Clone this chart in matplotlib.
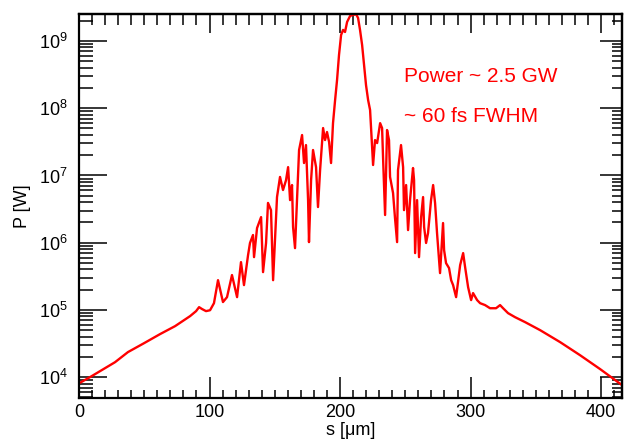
"""Radiation power profile along the bunch, log scale."""

import numpy as np
import matplotlib
matplotlib.use("Agg")
import matplotlib.pyplot as plt
from matplotlib.ticker import LogLocator, MultipleLocator, FuncFormatter, NullFormatter

plt.rcParams["font.family"] = ["Liberation Sans", "DejaVu Sans"]

# position along the bunch [um]
s_um = [
    0.0, 8.4, 16.1, 27.6, 37.5, 49.8, 62.1, 73.6, 85.1, 89.7,
    92.0, 94.3, 97.3, 100.4, 103.4, 106.5, 110.3, 113.4, 117.2, 121.1,
    124.1, 126.4, 129.5, 131.0, 133.3, 134.1, 136.4, 139.5, 141.0, 143.3,
    144.8, 147.1, 148.7, 151.7, 154.0, 156.3, 158.6, 160.2, 161.7, 163.2,
    164.0, 165.5, 167.0, 168.6, 170.9, 172.4, 173.9, 175.5, 176.2, 177.8,
    179.3, 181.6, 183.1, 184.7, 187.0, 188.5, 190.0, 191.6, 193.1, 194.6,
    196.2, 197.7, 199.2, 200.8, 202.3, 203.8, 205.4, 207.7, 210.0, 212.3,
    213.8, 215.3, 216.9, 218.4, 219.9, 221.5, 223.0, 224.5, 225.3, 226.8,
    228.4, 229.1, 230.7, 232.2, 233.0, 234.5, 236.0, 237.5, 238.3, 240.6,
    242.1, 243.7, 244.4, 246.7, 248.3, 249.0, 250.6, 252.1, 253.6, 255.9,
    256.7, 257.5, 259.0, 260.5, 262.1, 263.6, 264.4, 265.9, 267.4, 269.7,
    271.3, 272.8, 274.3, 276.6, 278.9, 279.7, 281.2, 283.5, 285.1, 286.6,
    288.9, 292.0, 294.3, 295.8, 298.1, 300.4, 301.9, 305.0, 307.3, 311.1,
    314.9, 319.5, 322.6, 324.9, 328.7, 334.1, 341.8, 353.3, 368.6, 383.9,
    399.2, 416.1,
]

# power [W]
power_w = [
    8.1e3, 1.0e4, 1.23e4, 1.67e4, 2.36e4, 3.2e4, 4.37e4, 5.74e4, 8.09e4, 9.6e4,
    1.10e5, 1.03e5, 9.6e4, 9.9e4, 1.26e5, 2.77e5, 1.31e5, 1.55e5, 3.3e5, 1.55e5,
    5.14e5, 2.34e5, 6.5e5, 9.9e5, 1.30e6, 6.1e5, 1.65e6, 2.4e6, 3.65e5, 9.9e5,
    3.9e6, 3.05e6, 2.77e5, 4.77e6, 9.5e6, 6.07e6, 8.5e6, 1.33e7, 4.3e6, 7.2e6,
    1.71e6, 8.3e5, 4.3e6, 2.39e7, 3.99e7, 1.53e7, 2.83e7, 4.3e6, 1.02e6, 8.5e6,
    2.39e7, 1.33e7, 3.39e6, 1.2e7, 5.07e7, 3.36e7, 4.42e7, 3.14e7, 1.53e7, 6.0e7,
    1.32e8, 2.63e8, 6.2e8, 1.23e9, 1.46e9, 1.36e9, 1.92e9, 2.36e9, 2.44e9, 2.5e9,
    2.2e9, 1.46e9, 8.7e8, 4.4e8, 2.2e8, 1.32e8, 9.4e7, 2.65e7, 1.43e7, 3.36e7,
    3.03e7, 3.73e7, 6.0e7, 5.07e7, 1.7e7, 2.58e6, 4.74e7, 3.36e7, 9.5e6, 5.47e6,
    2.32e6, 1.02e6, 1.2e7, 2.83e7, 1.33e7, 3.05e6, 7.2e6, 1.54e6, 4.3e6, 1.29e7,
    8.5e6, 7.0e5, 4.3e6, 6.1e5, 2.4e6, 4.77e6, 1.71e6, 9.9e5, 1.39e6, 4.3e6,
    7.2e6, 3.88e6, 1.39e6, 3.53e5, 1.96e6, 7.76e5, 4.97e5, 4.19e5, 2.77e5, 2.34e5,
    1.55e5, 4.64e5, 7.0e5, 4.34e5, 2.18e5, 1.40e5, 1.78e5, 1.40e5, 1.26e5, 1.18e5,
    1.06e5, 1.06e5, 1.18e5, 1.06e5, 8.96e4, 7.8e4, 6.58e4, 5.0e4, 3.32e4, 2.12e4,
    1.32e4, 7.6e3,
]

notes = ["Power ~ 2.5 GW", "~ 60 fs FWHM"]

fig = plt.figure(figsize=(6.25, 4.44), dpi=100)
ax = fig.add_axes([0.1264, 0.1036, 0.8688, 0.8649])

ax.plot(s_um, power_w, color="red", lw=1.7)

ax.set_yscale("log")
ax.set_xlim(0, 416)
ax.set_ylim(4.9e3, 2.52e9)

minor_subs = [2, 3, 4, 5, 6, 7, 8, 9]
ax.xaxis.set_major_locator(MultipleLocator(100))
ax.xaxis.set_minor_locator(MultipleLocator(10))
ax.yaxis.set_major_locator(LogLocator(base=10, numticks=20))
ax.yaxis.set_minor_locator(LogLocator(base=10, subs=minor_subs, numticks=20))
ax.yaxis.set_major_formatter(FuncFormatter(lambda v, _: r"$\mathregular{10^{%d}}$" % round(np.log10(v))))
ax.yaxis.set_minor_formatter(NullFormatter())

for sp in ax.spines.values():
    sp.set_linewidth(1.6)

ax.tick_params(axis="both", which="both", direction="in", width=1.1,
               labelsize=13, top=False, right=False)
ax.tick_params(axis="y", which="major", length=20, pad=8)
ax.tick_params(axis="y", which="minor", length=10)
ax.tick_params(axis="x", which="major", length=15, pad=4)
ax.tick_params(axis="x", which="minor", length=6)

# mirrored axes on the top and right, shorter ticks and no labels
top = ax.secondary_xaxis("top")
top.xaxis.set_major_locator(MultipleLocator(100))
top.xaxis.set_minor_locator(MultipleLocator(10))
top.tick_params(which="both", direction="in", width=1.1, labeltop=False)
top.tick_params(which="major", length=14)
top.tick_params(which="minor", length=8)
top.spines["top"].set_linewidth(1.6)

right = ax.secondary_yaxis("right")
right.yaxis.set_major_locator(LogLocator(base=10, numticks=20))
right.yaxis.set_minor_locator(LogLocator(base=10, subs=minor_subs, numticks=20))
right.tick_params(which="both", direction="in", width=1.1, labelright=False)
right.tick_params(which="major", length=16)
right.tick_params(which="minor", length=7)
right.spines["right"].set_linewidth(1.6)

ax.set_xlabel("s [\u03bcm]", fontsize=13, labelpad=1)
ax.set_ylabel("P [W]", fontsize=13, labelpad=6)

ax.text(0.598, 0.836, notes[0], transform=ax.transAxes, color="red",
        fontsize=15, va="center", ha="left")
ax.text(0.598, 0.734, notes[1], transform=ax.transAxes, color="red",
        fontsize=15, va="center", ha="left")

fig.savefig("out.png", dpi=100)
